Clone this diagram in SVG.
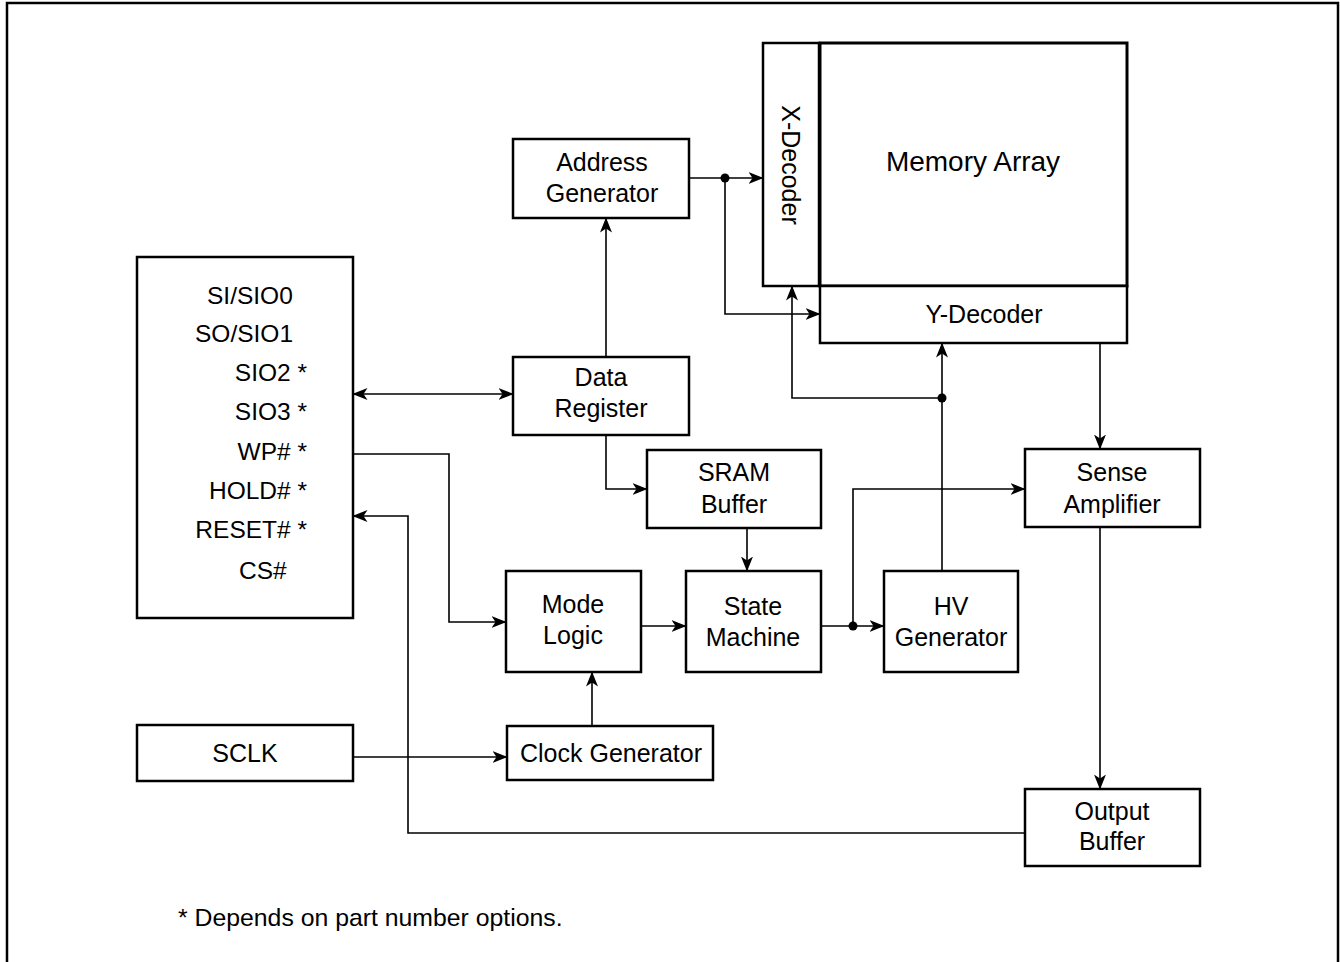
<svg xmlns="http://www.w3.org/2000/svg" width="1340" height="962" viewBox="0 0 1340 962">
<style>
.box{fill:#fff;stroke:#000;stroke-width:2.5}
.thick{fill:#fff;stroke:#000;stroke-width:3}
.lbl{font-family:"Liberation Sans",Arial,sans-serif;font-size:25px;fill:#000;text-anchor:middle;dominant-baseline:central}
.pin{font-family:"Liberation Sans",Arial,sans-serif;font-size:24.5px;fill:#000;dominant-baseline:central}
.pe{text-anchor:end}
.c{fill:none;stroke:#000;stroke-width:1.6}
.a{marker-end:url(#arr)}
</style>
<defs>
<marker id="arr" viewBox="0 0 15 12" refX="14.5" refY="6" markerWidth="15" markerHeight="12" markerUnits="userSpaceOnUse" orient="auto-start-reverse">
<path d="M0,0 L15,6 L0,12 L4,6 z" fill="#000"/>
</marker>
</defs>
<rect x="7" y="3" width="1331" height="975" fill="#fff" stroke="#000" stroke-width="2.5"/>

<g id="connectors">
<path class="c" d="M353,394 H513" marker-start="url(#arr)" marker-end="url(#arr)"/>
<path class="c a" d="M353,454 H449 V622 H506"/>
<path class="c a" d="M1025,833 H408 V516 H353"/>
<path class="c a" d="M353,757 H507"/>
<path class="c a" d="M592,726 V672"/>
<path class="c a" d="M641,626 H686"/>
<path class="c a" d="M821,626 H884"/>
<path class="c a" d="M853,626 V489 H1025"/>
<path class="c a" d="M747,528 V571"/>
<path class="c a" d="M606,435 V489 H647"/>
<path class="c a" d="M606,357 V218"/>
<path class="c a" d="M689,178 H763"/>
<path class="c a" d="M725,178 V314 H820"/>
<path class="c a" d="M942,571 V343"/>
<path class="c a" d="M942,398 H792 V286"/>
<path class="c a" d="M1100,343 V449"/>
<path class="c a" d="M1100,527 V789"/>
<circle cx="853" cy="626" r="4.5" fill="#000"/>
<circle cx="725" cy="178" r="4.5" fill="#000"/>
<circle cx="942" cy="398" r="4.5" fill="#000"/>
</g>

<g id="pins">
<rect class="box" x="137" y="257" width="216" height="361"/>
<text class="pin" x="207" y="295">SI/SIO0</text>
<text class="pin" x="195" y="333">SO/SIO1</text>
<text class="pin pe" x="307" y="372">SIO2 *</text>
<text class="pin pe" x="307" y="411">SIO3 *</text>
<text class="pin pe" x="307" y="451">WP# *</text>
<text class="pin pe" x="307" y="490">HOLD# *</text>
<text class="pin pe" x="307" y="529">RESET# *</text>
<text class="pin" x="239" y="570">CS#</text>
</g>

<g id="sclk">
<rect class="box" x="137" y="725" width="216" height="56"/>
<text class="lbl" x="245" y="753">SCLK</text>
</g>

<g id="address-generator">
<rect class="box" x="513" y="139" width="176" height="79"/>
<text class="lbl" x="602" y="162">Address</text>
<text class="lbl" x="602" y="193">Generator</text>
</g>

<g id="data-register">
<rect class="box" x="513" y="357" width="176" height="78"/>
<text class="lbl" x="601" y="377">Data</text>
<text class="lbl" x="601" y="408">Register</text>
</g>

<g id="sram-buffer">
<rect class="box" x="647" y="450" width="174" height="78"/>
<text class="lbl" x="734" y="472">SRAM</text>
<text class="lbl" x="734" y="504">Buffer</text>
</g>

<g id="mode-logic">
<rect class="box" x="506" y="571" width="135" height="101"/>
<text class="lbl" x="573" y="604">Mode</text>
<text class="lbl" x="573" y="635">Logic</text>
</g>

<g id="state-machine">
<rect class="box" x="686" y="571" width="135" height="101"/>
<text class="lbl" x="753" y="606">State</text>
<text class="lbl" x="753" y="637">Machine</text>
</g>

<g id="hv-generator">
<rect class="box" x="884" y="571" width="134" height="101"/>
<text class="lbl" x="951" y="606">HV</text>
<text class="lbl" x="951" y="637">Generator</text>
</g>

<g id="clock-generator">
<rect class="box" x="507" y="726" width="206" height="54"/>
<text class="lbl" x="611" y="753">Clock Generator</text>
</g>

<g id="sense-amplifier">
<rect class="box" x="1025" y="449" width="175" height="78"/>
<text class="lbl" x="1112" y="472">Sense</text>
<text class="lbl" x="1112" y="504">Amplifier</text>
</g>

<g id="output-buffer">
<rect class="box" x="1025" y="789" width="175" height="77"/>
<text class="lbl" x="1112" y="811">Output</text>
<text class="lbl" x="1112" y="841">Buffer</text>
</g>

<g id="x-decoder">
<rect class="box" x="763" y="43" width="56" height="243"/>
<text class="lbl" transform="translate(791,165) rotate(90)" x="0" y="0">X-Decoder</text>
</g>

<g id="memory-array">
<rect class="thick" x="820" y="43" width="307" height="243"/>
<text class="lbl" x="973" y="161" style="font-size:28px">Memory Array</text>
</g>

<g id="y-decoder">
<rect class="box" x="820" y="286" width="307" height="57"/>
<text class="lbl" x="984" y="314">Y-Decoder</text>
</g>

<text class="pin" x="178" y="917" style="font-size:24.8px">* Depends on part number options.</text>
</svg>
